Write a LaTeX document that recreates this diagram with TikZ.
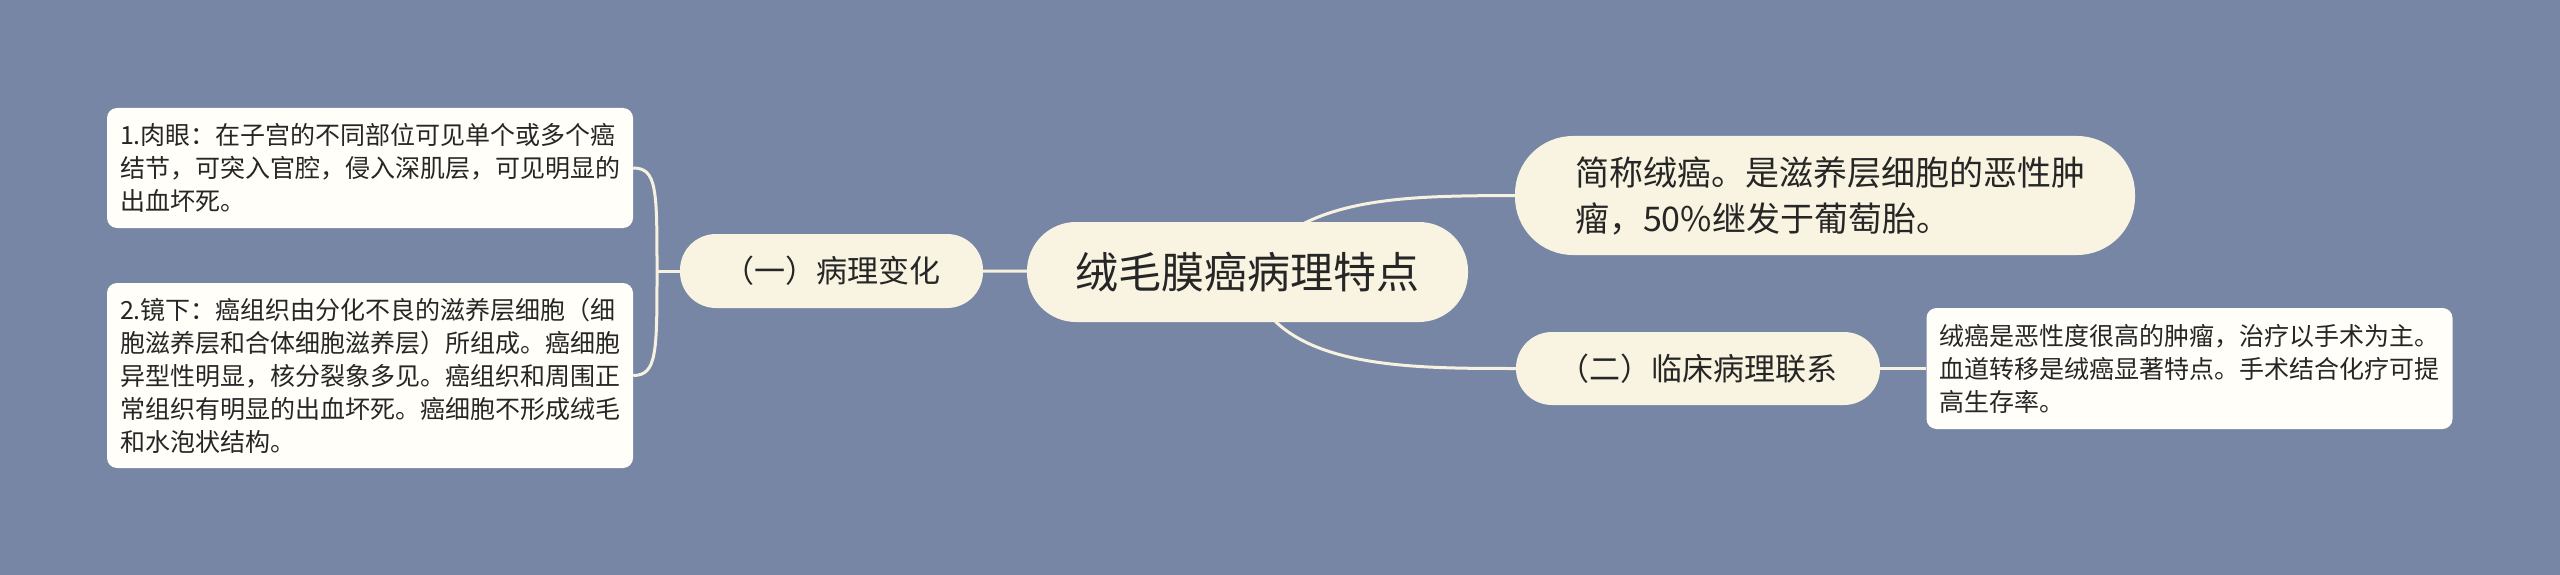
\documentclass[tikz,border=0pt]{standalone}
\usepackage{fontspec}
\setmainfont{Noto Sans CJK SC}
\usepackage{tikz}
\usetikzlibrary{positioning}
\definecolor{bgblue}{HTML}{7886A5}
\definecolor{cream}{HTML}{F8F4E1}
\definecolor{paperwhite}{HTML}{FFFEF8}
\definecolor{ink}{HTML}{262626}
\definecolor{linecream}{HTML}{F6F2DF}
\tikzset{
  root/.style={fill=cream,text=ink,rounded corners=49pt,minimum width=441pt,
    minimum height=100pt,inner sep=0pt,font=\fontsize{43pt}{50pt}\selectfont},
  branch/.style={fill=cream,text=ink,inner sep=0pt,font=\fontsize{31pt}{43pt}\selectfont},
  leaf/.style={fill=paperwhite,text=ink,rounded corners=10pt,align=left,inner xsep=13pt,
    inner ysep=0pt,text width=500pt,font=\fontsize{25pt}{33pt}\selectfont},
  link/.style={draw=linecream,line width=3pt}
}
\pgfdeclarelayer{paper}
\pgfdeclarelayer{edges}
\pgfsetlayers{paper,edges,main}

\begin{document}
\begin{tikzpicture}[x=1pt,y=-1pt]
  \begin{pgfonlayer}{paper}
    \fill[bgblue] (0,0) rectangle (2560,575);
  \end{pgfonlayer}
  \useasboundingbox (0,0) rectangle (2560,575);

  \node[root] (top) at (1247.5,272) {绒毛膜癌病理特点};

  % left side
  \node[branch,minimum width=303pt,minimum height=74pt,rounded corners=36pt]
    (change) at (831.5,271) {（一）病理变化};
  \node[leaf,minimum height=120pt] (eye) at (370,168)
    {1.肉眼：在子宫的不同部位可见单个或多个癌\\结节，可突入官腔，侵入深肌层，可见明显的\\出血坏死。};
  \node[leaf,minimum height=185pt] (micro) at (370,375.5)
    {2.镜下：癌组织由分化不良的滋养层细胞（细\\胞滋养层和合体细胞滋养层）所组成。癌细胞\\异型性明显，核分裂象多见。癌组织和周围正\\常组织有明显的出血坏死。癌细胞不形成绒毛\\和水泡状结构。};
  \coordinate (fork) at (657,271);

  % right side
  \node[branch,align=left,text width=500pt,minimum width=620pt,minimum height=119pt,
    rounded corners=58pt,font=\fontsize{34pt}{46pt}\selectfont] (brief) at (1825,195.5)
    {简称绒癌。是滋养层细胞的恶性肿\\瘤，50\%继发于葡萄胎。};
  \node[branch,minimum width=364pt,minimum height=73pt,rounded corners=36pt]
    (clinic) at (1698,368.5) {（二）临床病理联系};
  \node[leaf,minimum height=121pt] (cure) at (2189.5,368.5)
    {绒癌是恶性度很高的肿瘤，治疗以手术为主。\\血道转移是绒癌显著特点。手术结合化疗可提\\高生存率。};

  \begin{pgfonlayer}{edges}
    \draw[link] (top.center) -- (change.east);
    \draw[link] (change.west) -- (fork);
    \draw[link] (fork) .. controls (657,190) and (657,168) .. (eye.east);
    \draw[link] (fork) .. controls (657,352) and (657,375.5) .. (micro.east);
    \draw[link] (top.center) .. controls (1300,196) and (1400,196) .. (brief.west);
    \draw[link] (top.center) .. controls (1270,368.5) and (1400,368.5) .. (clinic.west);
    \draw[link] (clinic.east) -- (cure.west);
  \end{pgfonlayer}
\end{tikzpicture}
\end{document}
